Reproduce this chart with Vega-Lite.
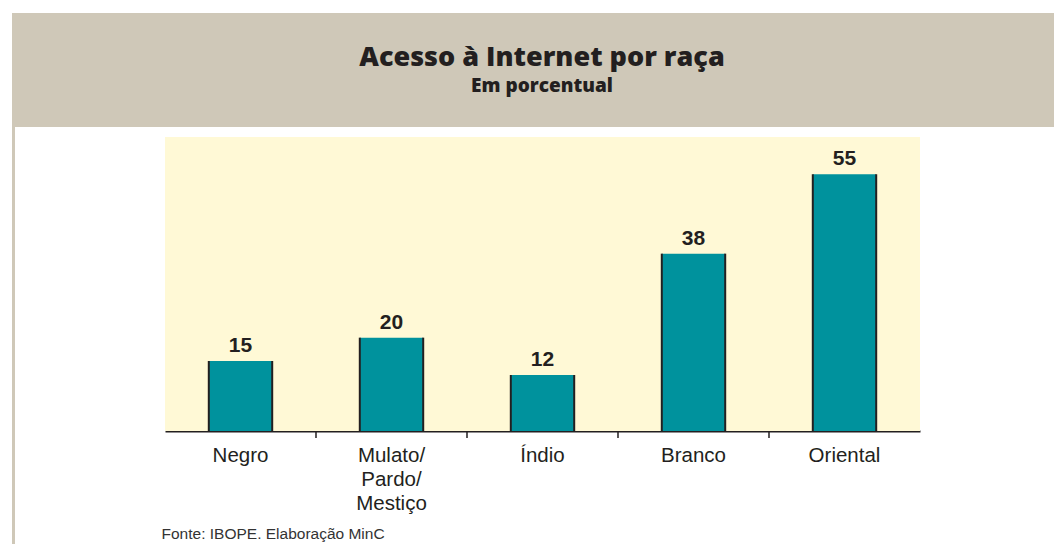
{
  "$schema": "https://vega.github.io/schema/vega-lite/v6.json",
  "padding": {"left": 12, "top": 13, "right": 0, "bottom": 0},
  "background": "white",
  "config": {"view": {"stroke": null}},
  "spacing": 0,
  "bounds": "flush",
  "vconcat": [
    {
      "width": 1042,
      "height": 114,
      "view": {"fill": "#CFC8B8", "stroke": null},
      "layer": [
        {
          "data": {"values": [{"t": "Acesso à Internet por raça"}]},
          "mark": {"type": "text", "font": "Open Sans", "fontWeight": 800, "fontSize": 27, "color": "#231F20", "baseline": "alphabetic", "align": "center", "dx": 9, "dy": -4},
          "encoding": {"text": {"field": "t", "type": "nominal"}}
        },
        {
          "data": {"values": [{"t": "Em porcentual"}]},
          "mark": {"type": "text", "font": "Open Sans", "fontWeight": 800, "fontSize": 19, "color": "#231F20", "baseline": "alphabetic", "align": "center", "dx": 9, "dy": 22},
          "encoding": {"text": {"field": "t", "type": "nominal"}}
        }
      ]
    },
    {
      "spacing": 150,
      "bounds": "flush",
      "hconcat": [
        {
          "width": 3,
          "height": 417,
          "view": {"fill": "#CFC8B8", "stroke": null},
          "data": {"values": []},
          "mark": "text",
          "encoding": {}
        },
        {
          "width": 755,
          "height": 304,
          "view": {"fill": null, "stroke": null},
          "data": {"values": [
            {"raca": "Negro", "pct": 15},
            {"raca": "Mulato/ Pardo/ Mestiço", "pct": 20},
            {"raca": "Índio", "pct": 12},
            {"raca": "Branco", "pct": 38},
            {"raca": "Oriental", "pct": 55}
          ]},
          "layer": [
            {
              "data": {"values": [{}]},
              "mark": {"type": "rect", "color": "#FFF9D6"},
              "encoding": {
                "y": {"datum": 63, "type": "quantitative", "scale": {"domain": [0, 65.14], "nice": false, "zero": false}, "axis": null},
                "y2": {"datum": 0}
              }
            },
            {
              "layer": [
                {
                  "mark": {"type": "bar", "color": "#00929D"},
                  "encoding": {
                    "x": {
                      "field": "raca", "type": "nominal", "sort": null,
                      "scale": {"paddingInner": 0.58, "paddingOuter": 0.29},
                      "axis": {
                        "title": "Fonte: IBOPE. Elaboração MinC",
                        "grid": false,
                        "domainColor": "#231F20",
                        "domainWidth": 2,
                        "ticks": false,
                        "tickSize": 0,
                        "labelPadding": 14,
                        "labelFont": "Liberation Sans",
                        "labelFontSize": 20.5,
                        "labelColor": "#231F20",
                        "labelAngle": 0,
                        "labelLineHeight": 24,
                        "labelOverlap": false,
                        "labelLimit": 0,
                        "labelExpr": "split(datum.value, ' ')",
                        "titleFont": "Liberation Sans",
                        "titleFontSize": 15.5,
                        "titleFontWeight": "normal",
                        "titleColor": "#333333",
                        "titleAnchor": "start",
                        "titleAlign": "left",
                        "titleBaseline": "alphabetic",
                        "titleX": -4,
                        "titleY": 107
                      }
                    },
                    "y": {"field": "pct", "type": "quantitative", "scale": {"domain": [0, 65.14], "nice": false, "zero": false}, "axis": null}
                  }
                },
                {
                  "mark": {"type": "rule", "color": "#231F20", "strokeWidth": 2},
                  "encoding": {
                    "x": {"field": "raca", "type": "nominal", "sort": null, "bandPosition": 0},
                    "y": {"field": "pct", "type": "quantitative"},
                    "y2": {"datum": 0}
                  }
                },
                {
                  "mark": {"type": "rule", "color": "#231F20", "strokeWidth": 2},
                  "encoding": {
                    "x": {"field": "raca", "type": "nominal", "sort": null, "bandPosition": 1},
                    "y": {"field": "pct", "type": "quantitative"},
                    "y2": {"datum": 0}
                  }
                },
                {
                  "transform": [{"filter": "datum.raca != 'Negro'"}],
                  "mark": {"type": "rule", "color": "#231F20", "strokeWidth": 1.5},
                  "encoding": {
                    "x": {"field": "raca", "type": "nominal", "sort": null, "bandPosition": -0.6905},
                    "y": {"datum": 0, "type": "quantitative"},
                    "y2": {"datum": -1.5}
                  }
                },
                {
                  "mark": {"type": "text", "font": "Liberation Sans", "fontWeight": "bold", "fontSize": 21, "color": "#231F20", "baseline": "alphabetic", "dy": -9},
                  "encoding": {
                    "x": {"field": "raca", "type": "nominal", "sort": null},
                    "y": {"field": "pct", "type": "quantitative"},
                    "text": {"field": "pct", "type": "quantitative"}
                  }
                }
              ]
            }
          ]
        }
      ]
    }
  ]
}
